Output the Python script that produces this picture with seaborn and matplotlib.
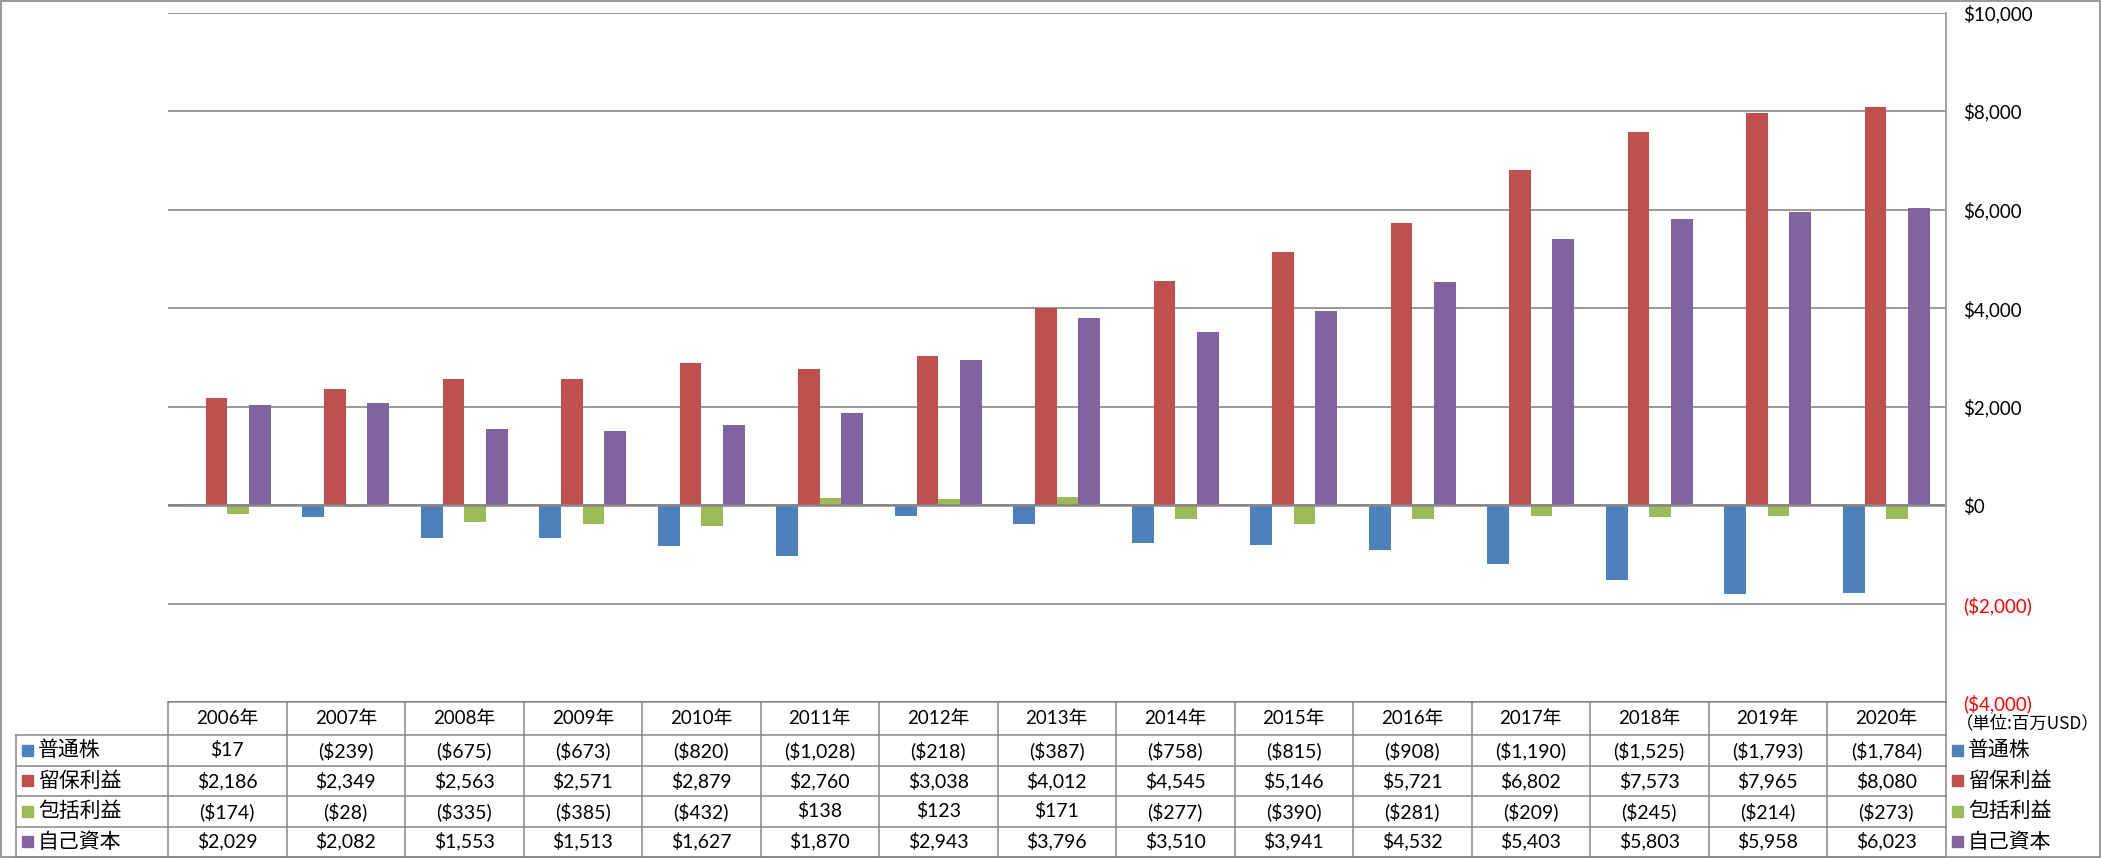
import numpy as np
import pandas as pd
import matplotlib
matplotlib.use('Agg')
import matplotlib.pyplot as plt
import seaborn as sns
from matplotlib.patches import Rectangle

# data (unit: million USD)
years = ['2006年', '2007年', '2008年', '2009年', '2010年', '2011年', '2012年', '2013年',
         '2014年', '2015年', '2016年', '2017年', '2018年', '2019年', '2020年']
series = ['普通株', '留保利益', '包括利益', '自己資本']
common_stock = [17, -239, -675, -673, -820, -1028, -218, -387, -758, -815, -908, -1190, -1525, -1793, -1784]
retained = [2186, 2349, 2563, 2571, 2879, 2760, 3038, 4012, 4545, 5146, 5721, 6802, 7573, 7965, 8080]
comprehensive = [-174, -28, -335, -385, -432, 138, 123, 171, -277, -390, -281, -209, -245, -214, -273]
equity = [2029, 2082, 1553, 1513, 1627, 1870, 2943, 3796, 3510, 3941, 4532, 5403, 5803, 5958, 6023]
yticks = [-4000, -2000, 0, 2000, 4000, 6000, 8000, 10000]
unit_label = '（単位:百万USD）'

colors = ['#4F81BD', '#C0504D', '#9BBB59', '#8064A2']
grid_c = '#878787'

values = [common_stock, retained, comprehensive, equity]
df = pd.DataFrame({
    'year': years * len(series),
    'series': [s for s in series for _ in years],
    'value': [v for vals in values for v in vals],
})


def money(v):
    return f'(${-v:,})' if v < 0 else f'${v:,}'


W, H = 2101, 858
fig = plt.figure(figsize=(W / 100, H / 100), dpi=100)

# plot area in pixels
left, right, top, bottom = 168, 1945.5, 12.5, 702.3
ax = fig.add_axes([left / W, 1 - bottom / H, (right - left) / W, (bottom - top) / H])

sns.barplot(data=df, x='year', y='value', hue='series', order=years, hue_order=series,
            palette=colors, saturation=1, width=0.73, errorbar=None, linewidth=0,
            legend=False, ax=ax, zorder=3)

ax.set_xlim(-0.5, len(years) - 0.5)
ax.set_ylim(yticks[0], yticks[-1])
ax.set_yticks(yticks)
ax.set_yticklabels([money(v) for v in yticks])
ax.yaxis.tick_right()
ax.tick_params(axis='y', length=0, pad=12.5, labelsize=13.5)
for lab, v in zip(ax.get_yticklabels(), yticks):
    lab.set_family('Lato')
    lab.set_color('red' if v < 0 else 'black')
ax.set_xticks([])
ax.set_xlabel('')
ax.set_ylabel('')
for s in ax.spines.values():
    s.set_visible(False)
ax.yaxis.grid(True, color=grid_c, lw=1.2, zorder=0)
ax.set_axisbelow(True)
ax.axhline(0, color=grid_c, lw=1.8, zorder=4)

# overlay in pixel coords for the data table
tab = fig.add_axes([0, 0, 1, 1], zorder=5)
tab.set_xlim(0, W)
tab.set_ylim(H, 0)
tab.axis('off')
tab.patch.set_alpha(0)

rows_y = [702.3, 735, 765.5, 796, 826.5, 856.5]
col_x = np.linspace(left, right, len(years) + 1)
lab_left = 16
lkw = dict(color=grid_c, lw=1.1)

tab.plot([left, right], [rows_y[0]] * 2, **lkw)
for y in rows_y[1:]:
    tab.plot([lab_left, right], [y, y], **lkw)
for x in col_x[:-1]:
    tab.plot([x, x], [rows_y[0], rows_y[-1]], **lkw)
tab.plot([lab_left, lab_left], [rows_y[1], rows_y[-1]], **lkw)
tab.plot([right, right], [top, rows_y[-1]], **lkw)

cjk = ['Noto Sans CJK JP', 'DejaVu Sans']
numf = ['Lato', 'Noto Sans CJK JP']
centers = (col_x[:-1] + col_x[1:]) / 2
hy = (rows_y[0] + rows_y[1]) / 2
for cx, yr in zip(centers, years):
    tab.text(cx, hy, yr, ha='center', va='center', fontsize=13.5, family=numf)

for i, (name, vals, c) in enumerate(zip(series, values, colors)):
    ry = (rows_y[i + 1] + rows_y[i + 2]) / 2
    tab.add_patch(Rectangle((22, ry - 5.5), 11, 11, color=c))
    tab.text(38, ry, name, ha='left', va='center', fontsize=15, family=cjk)
    for cx, v in zip(centers, vals):
        tab.text(cx, ry, money(v), ha='center', va='center', fontsize=14, family=numf)
    # right side legend
    tab.add_patch(Rectangle((1952, ry - 5.5), 11, 11, color=c))
    tab.text(1968, ry, name, ha='left', va='center', fontsize=15, family=cjk)

tab.text(1956, 723, unit_label, ha='left', va='center', fontsize=12.5, family=cjk)

# outer frame
tab.add_patch(Rectangle((0.5, 0.5), W - 1.5, H - 1.5, fill=False, ec=grid_c, lw=1.2))

fig.savefig('out.png', dpi=100)
